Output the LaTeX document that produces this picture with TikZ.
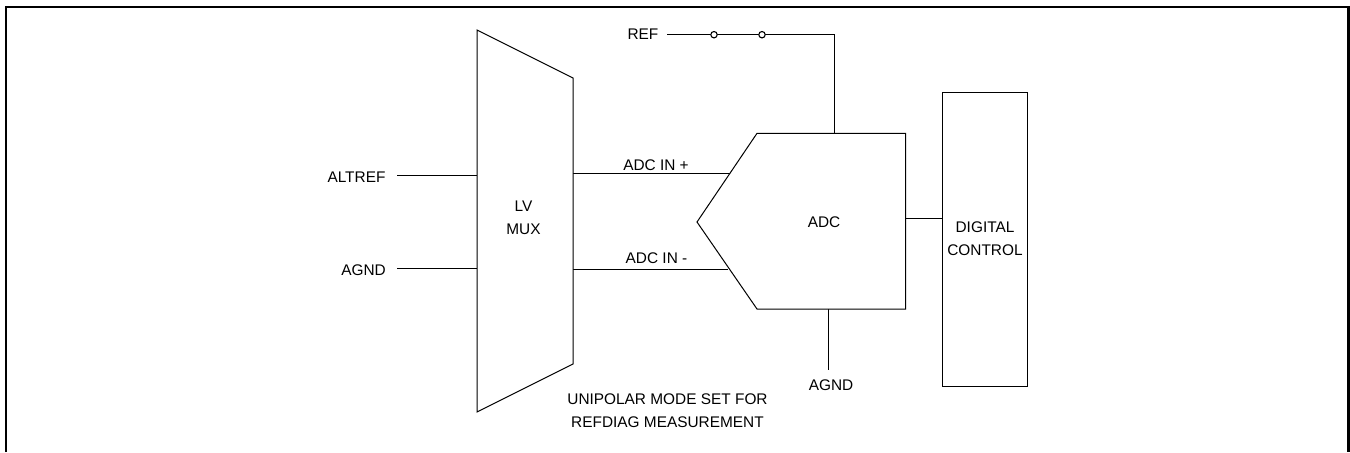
\documentclass[tikz,border=0pt]{standalone}
\usepackage{fontspec}
\setmainfont{Liberation Sans}
\tikzset{
  px/.style={x=0.5pt,y=-0.5pt},
  wire/.style={draw=black,line width=0.5pt},
  block/.style={draw=black,line width=0.5pt,fill=white},
  frameline/.style={draw=black,line width=1.1pt},
  lbl/.style={inner sep=0pt,font=\fontsize{7.7}{11.6}\selectfont,align=center,text=black},
  post/.style={circle,draw=black,line width=0.55pt,fill=white,minimum size=3.2pt,inner sep=0pt}
}
\begin{document}
\begin{tikzpicture}[px]
\useasboundingbox (0,0) rectangle (1350,452);
\fill[white] (0,0) rectangle (1350,452);
% frame
\draw[frameline] (6,452) -- (6,7) -- (1348.5,7) -- (1348.5,452);
% block corners
\coordinate (m1) at (477,30);\coordinate (m2) at (573,78);\coordinate (m3) at (573,364);\coordinate (m4) at (477,412);
\coordinate (a0) at (697,222);\coordinate (a1) at (757,133.3);\coordinate (a2) at (905.5,133.3);\coordinate (a3) at (905.5,309);\coordinate (a4) at (757,309);
% wire ends
\coordinate (mi1) at (477,175.3);\coordinate (mi2) at (477,268.3);
\coordinate (mo1) at (573,173.3);\coordinate (mo2) at (573,269);
\coordinate (ai1) at (730,173.3);\coordinate (ai2) at (728,269);
\coordinate (ao) at (905.5,218);\coordinate (di) at (942,218);
\coordinate (aref) at (834,133.3);\coordinate (rc) at (834,34.7);
\coordinate (ag) at (828,309);\coordinate (age) at (828,370);
\coordinate (r0) at (667,34.7);\coordinate (a5) at (397,175.3);\coordinate (a6) at (397,268.3);
% wires
\draw[wire] (a5) -- (mi1);
\draw[wire] (a6) -- (mi2);
\draw[wire] (mo1) -- (ai1);
\draw[wire] (mo2) -- (ai2);
\draw[wire] (ao) -- (di);
\draw[wire] (ag) -- (age);
\draw[wire] (r0) -- (rc) -- (aref);
% blocks
\draw[block] (m1) -- (m2) -- (m3) -- (m4) -- cycle;
\draw[block] (a0) -- (a1) -- (a2) -- (a3) -- (a4) -- cycle;
\node[block,minimum width=42.6pt,minimum height=147pt,inner sep=0pt,anchor=north west] (dig) at (942,92) {};
\node[post] (p1) at (714,34.7) {};
\node[post] (p2) at (762,34.7) {};
% labels
\node[lbl] (t1) at (356.5,177.5) {ALTREF};
\node[lbl] (t2) at (363.5,270.5) {AGND};
\node[lbl] (t3) at (643,34) {REF};
\node[lbl] (t4) at (656,165) {ADC IN +};
\node[lbl] (t5) at (656.5,258.5) {ADC IN -};
\node[lbl] (t6) at (523.5,218) {LV\\MUX};
\node[lbl] (t7) at (824,222.5) {ADC};
\node[lbl] (t8) at (985,239) {DIGITAL\\CONTROL};
\node[lbl] (t9) at (831,385) {AGND};
\node[lbl] (t10) at (667.5,410.5) {UNIPOLAR MODE SET FOR\\REFDIAG MEASUREMENT};
\end{tikzpicture}
\end{document}
